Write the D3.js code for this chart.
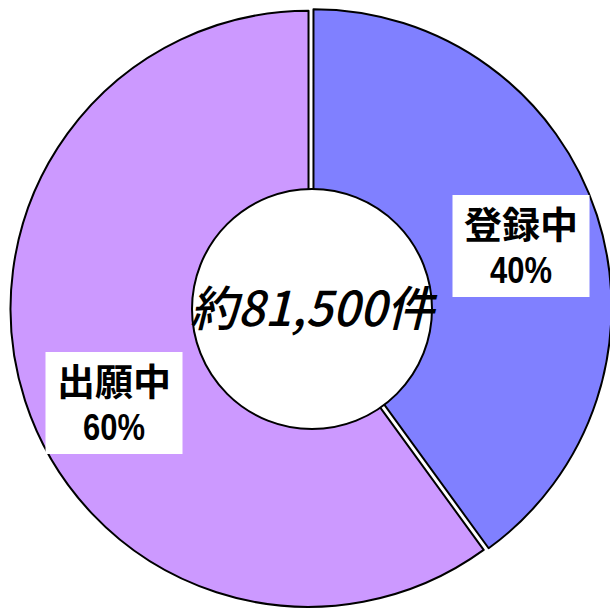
<!DOCTYPE html>
<html>
<head>
<meta charset="utf-8">
<script src="https://cdn.jsdelivr.net/npm/d3@7"></script>
<style>
  body { margin: 0; background: #fff; }
  svg { display: block; }
</style>
</head>
<body>
<svg></svg>
<script>
// data
const categories = ['登録中', '出願中']
const shares = [40, 60]
const colors = ['#8080FF', '#CC99FF']
const totalLabel = '約81,500件'

const width = 610
const height = 608
const cx = 311
const cy = 308
const outerR = 298
const holeR = 120
const explode = 2.6

// label box centres (layout only)
const labelPos = [[521, 246], [114, 403]]

const slices = categories.map((c, i) => ({ name: c, value: shares[i], color: colors[i] }))

const pie = d3.pie()
  .value(d => d.value)
  .sort(null)

const arc = d3.arc()
  .innerRadius(0)
  .outerRadius(outerR)

const svg = d3.select('svg')
  .attr('width', width)
  .attr('height', height)

const g = svg.append('g')
  .attr('transform', `translate(${cx}, ${cy})`)

g.selectAll('path')
  .data(pie(slices))
  .enter()
  .append('path')
    .attr('transform', d => {
      let a = (d.startAngle + d.endAngle) / 2
      return `translate(${explode * Math.sin(a)}, ${-explode * Math.cos(a)})`
    })
    .attr('d', arc)
    .attr('fill', d => d.data.color)
    .attr('stroke', '#000')
    .attr('stroke-width', 2)
    .attr('stroke-linejoin', 'round')

// centre hole
svg.append('circle')
  .attr('cx', cx + 1)
  .attr('cy', cy + 1)
  .attr('r', holeR)
  .attr('fill', '#fff')
  .attr('stroke', '#000')
  .attr('stroke-width', 2)

svg.append('text')
  .attr('x', cx + 1)
  .attr('y', cy + 1)
  .attr('dy', '0.36em')
  .attr('textLength', 244)
  .attr('lengthAdjust', 'spacingAndGlyphs')
  .style('text-anchor', 'middle')
  .style('font-family', '"Noto Sans CJK JP", sans-serif')
  .style('font-style', 'italic')
  .style('font-weight', 500)
  .style('font-size', '48px')
  .text(totalLabel)

// labels in white boxes
const boxW = 137
const boxH = 102
slices.forEach((s, i) => {
  let [lx, ly] = labelPos[i]
  let lg = svg.append('g')
  lg.append('rect')
    .attr('x', lx - boxW / 2)
    .attr('y', ly - boxH / 2)
    .attr('width', boxW)
    .attr('height', boxH)
    .attr('fill', '#fff')
  lg.append('text')
    .attr('x', lx)
    .attr('y', ly - 20)
    .attr('dy', '0.36em')
    .attr('textLength', 114)
    .attr('lengthAdjust', 'spacingAndGlyphs')
    .style('text-anchor', 'middle')
    .style('font-family', '"Noto Sans CJK JP", sans-serif')
    .style('font-weight', 700)
    .style('font-size', '37px')
    .text(s.name)
  lg.append('text')
    .attr('x', lx)
    .attr('y', ly + 24)
    .attr('dy', '0.36em')
    .attr('textLength', 62)
    .attr('lengthAdjust', 'spacingAndGlyphs')
    .style('text-anchor', 'middle')
    .style('font-family', '"Liberation Sans", Arial, sans-serif')
    .style('font-weight', 700)
    .style('font-size', '37px')
    .text(s.value + '%')
})
</script>
</body>
</html>
